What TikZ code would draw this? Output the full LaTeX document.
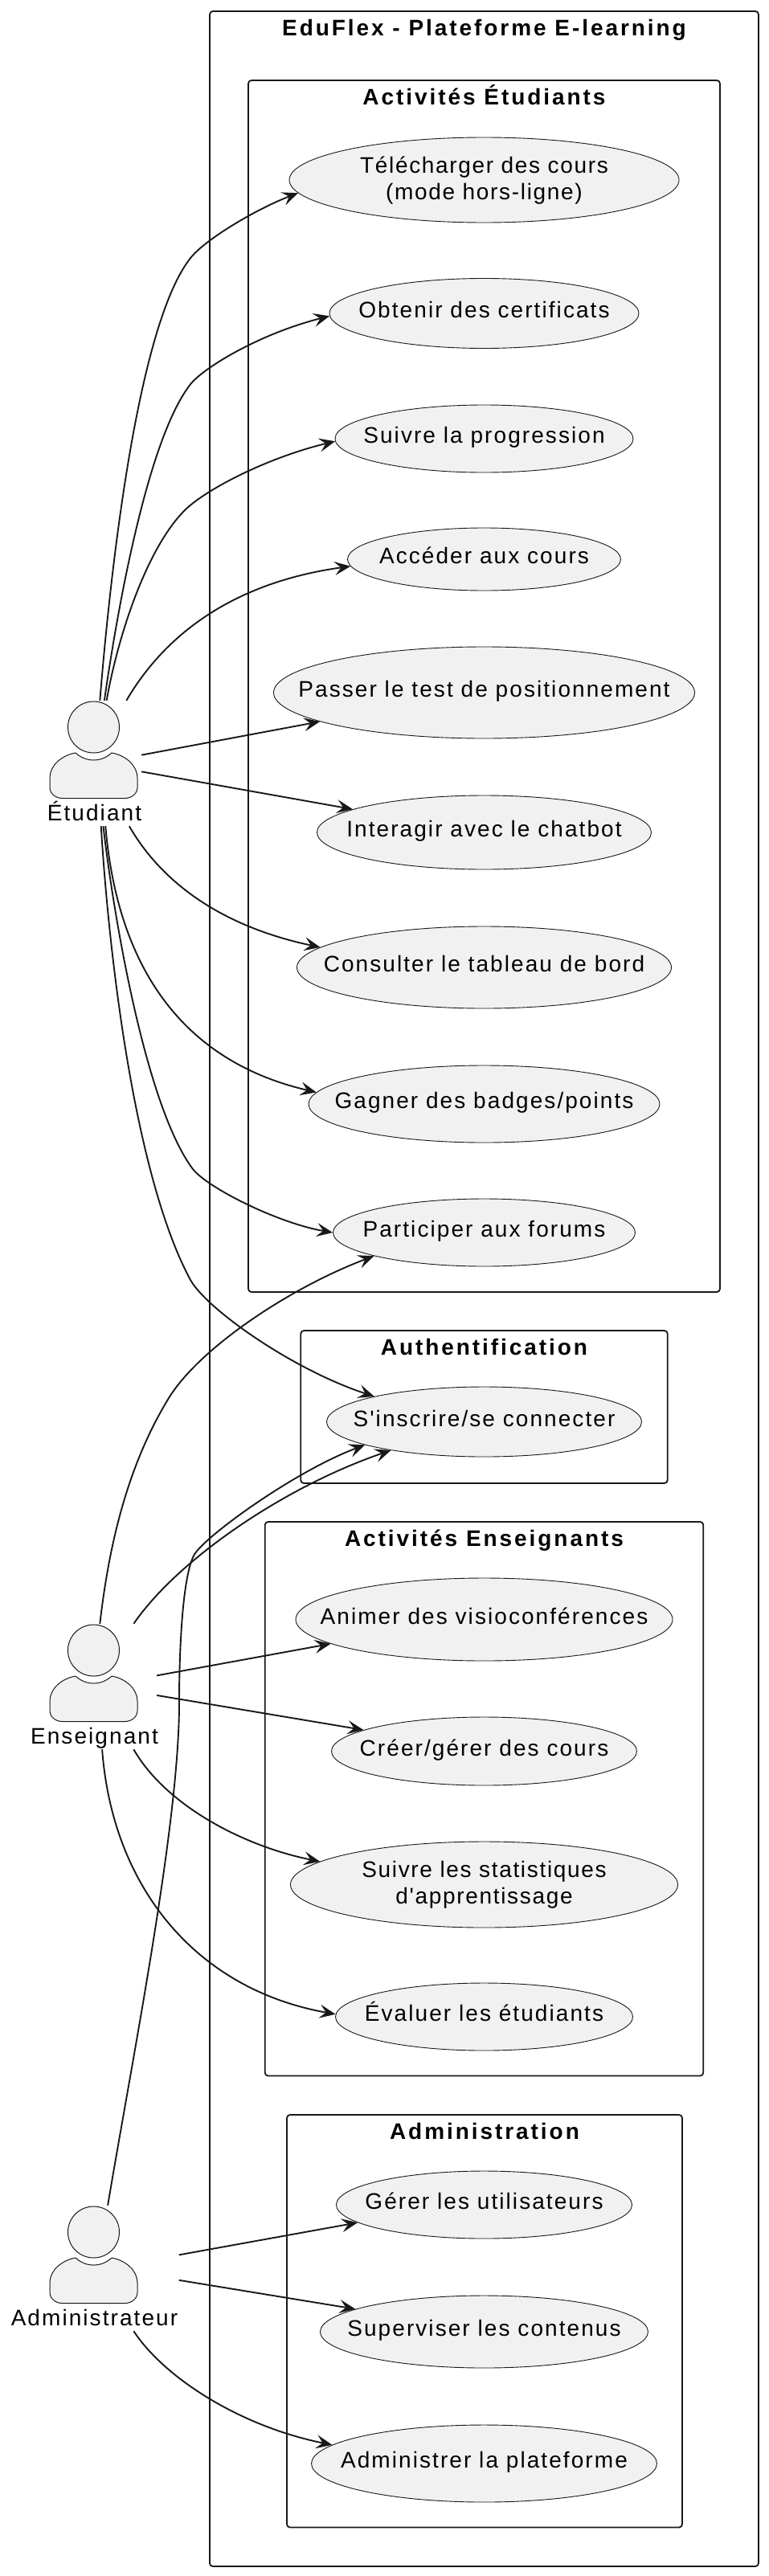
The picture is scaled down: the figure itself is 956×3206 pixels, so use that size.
\documentclass[tikz,border=0pt]{standalone}
\usepackage{fontspec}
\setmainfont[LetterSpace=7.4,Ligatures=TeXOff]{Liberation Sans}
\newfontfamily\packfont[LetterSpace=10.5]{Liberation Sans}
\newfontfamily\twofont[LetterSpace=6,Ligatures=TeXOff]{Liberation Sans}
\usepackage{xcolor}
\usepackage{tikz}
\usetikzlibrary{arrows.meta,positioning,shapes.geometric}
\definecolor{ink}{HTML}{181818}
\definecolor{casefill}{HTML}{F1F1F1}
\newcommand{\casetext}[1]{\makebox[0pt]{#1}}
\newcommand{\casetwo}[2]{\makebox[0pt]{\begin{tabular}[t]{@{}c@{}}#1\\#2\end{tabular}}}
\tikzset{
  packbox/.style={
    draw=ink,
    rounded corners=4pt,
    line width=1.8pt
  },
  packtitle/.style={
    anchor=center,
    font=\packfont\bfseries\fontsize{28}{33}\selectfont,
    text=black,
    text height=22pt,
    text depth=8pt,
    inner sep=0pt
  },
  usecase/.style={
    ellipse,
    draw=ink,
    line width=0.9pt,
    fill=casefill,
    inner sep=0pt,
    font=\fontsize{28}{33}\selectfont,
    text=black,
    text height=21pt,
    text depth=10pt
  },
  usetwo/.style={usecase, font=\twofont\fontsize{28}{33}\selectfont, text height=24pt, text depth=42pt},
  actorzone/.style={minimum height=156pt, inner sep=0pt},
  actorlabel/.style={
    anchor=center,
    font=\fontsize{28}{33}\selectfont,
    text=black,
    text height=22pt,
    text depth=8pt,
    inner sep=0pt
  },
  linkarrow/.style={-{Stealth[length=20pt,width=17pt,inset=8pt]}, line width=1.9pt, draw=ink},
  actorfig/.pic={
    \draw[draw=ink, line width=1pt, fill=casefill] (0,0) circle (32);
    \draw[draw=ink, line width=1pt, fill=casefill] (-22.5,32) .. controls (-16,38) and (-8,41) .. (0,41)
      .. controls (8,41) and (16,38) .. (22.5,32) .. controls (40,35) and (54.5,48) .. (54.5,63)
      -- (54.5,75) .. controls (54.5,83) and (47,88.5) .. (39,88.5) -- (-39,88.5)
      .. controls (-47,88.5) and (-54.5,83) .. (-54.5,75) -- (-54.5,63)
      .. controls (-54.5,48) and (-40,35) .. (-22.5,32) -- cycle;
  }
}
\begin{document}
\begin{tikzpicture}[x=1pt, y=-1pt, on grid]
  \useasboundingbox (0,0) rectangle (956,3206);

  \node[packbox, minimum width=683pt, minimum height=3180pt] (plateforme) at (602.5,1604) {};
  \node[below=24pt of plateforme.north, packtitle] (plateformetitle) {EduFlex - Plateforme E-learning};
  \node[packbox, minimum width=587pt, minimum height=1508pt] (packetud) at (602.5,854) {};
  \node[below=24pt of packetud.north, packtitle] (packetudtitle) {Activités Étudiants};
  \node[packbox, minimum width=456.5pt, minimum height=190pt] (packauth) at (602.5,1751) {};
  \node[below=24pt of packauth.north, packtitle] (packauthtitle) {Authentification};
  \node[packbox, minimum width=545.6pt, minimum height=689.5pt] (packens) at (602.5,2238.75) {};
  \node[below=24pt of packens.north, packtitle] (packenstitle) {Activités Enseignants};
  \node[packbox, minimum width=492pt, minimum height=513.5pt] (packadm) at (603,2888.75) {};
  \node[below=24pt of packadm.north, packtitle] (packadmtitle) {Administration};

  \node[usetwo, minimum width=485pt, minimum height=106pt] (telecharger) at (602.5,224)
    {\casetwo{Télécharger des cours}{(mode hors-ligne)}};
  \node[usecase, below=166pt of telecharger, minimum width=385pt, minimum height=87pt] (obtenir)
    {\casetext{Obtenir des certificats}};
  \node[usecase, below=156pt of obtenir, minimum width=371pt, minimum height=84pt] (progression)
    {\casetext{Suivre la progression}};
  \node[usecase, below=150pt of progression, minimum width=340pt, minimum height=78pt] (acceder)
    {\casetext{Accéder aux cours}};
  \node[usecase, below=166pt of acceder, minimum width=524pt, minimum height=114pt] (passer)
    {\casetext{Passer le test de positionnement}};
  \node[usecase, below=174pt of passer, minimum width=416pt, minimum height=92pt] (chatbot)
    {\casetext{Interagir avec le chatbot}};
  \node[usecase, below=168pt of chatbot, minimum width=466pt, minimum height=102pt] (tableau)
    {\casetext{Consulter le tableau de bord}};
  \node[usecase, below=170pt of tableau, minimum width=437pt, minimum height=96pt] (badges)
    {\casetext{Gagner des badges/points}};
  \node[usecase, below=160pt of badges, minimum width=376pt, minimum height=84pt] (forums)
    {\casetext{Participer aux forums}};
  \node[usecase, below=235.5pt of forums, minimum width=392pt, minimum height=87pt] (connecter)
    {\casetext{S'inscrire/se connecter}};
  \node[usecase, below=246pt of connecter, minimum width=469pt, minimum height=103pt] (visio)
    {\casetext{Animer des visioconférences}};
  \node[usecase, below=164pt of visio, minimum width=380pt, minimum height=85pt] (creer)
    {\casetext{Créer/gérer des cours}};
  \node[usetwo, below=166pt of creer, minimum width=482pt, minimum height=107pt] (stats)
    {\casetwo{Suivre les statistiques}{d'apprentissage}};
  \node[usecase, below=164.5pt of stats, minimum width=370pt, minimum height=84pt] (evaluer)
    {\casetext{Évaluer les étudiants}};
  \node[usecase, below=234pt of evaluer, minimum width=368pt, minimum height=84pt] (gerer)
    {\casetext{Gérer les utilisateurs}};
  \node[usecase, below=158pt of gerer, minimum width=408pt, minimum height=90pt] (superviser)
    {\casetext{Superviser les contenus}};
  \node[usecase, below=164pt of superviser, minimum width=430pt, minimum height=96pt] (administrer)
    {\casetext{Administrer la plateforme}};

  \node[actorzone, minimum width=117pt] (etudiant) at (117.5,950) {};
  \node[actorzone, minimum width=155pt] (enseignant) at (117.5,2099) {};
  \node[actorzone, minimum width=210pt] (admin) at (117.5,2823) {};
  \pic at (116.5,905) {actorfig};
  \pic at (116.5,2054) {actorfig};
  \pic at (116.5,2778) {actorfig};
  \node[below=64pt of etudiant.center, actorlabel] (etudiantlabel) {Étudiant};
  \node[below=64pt of enseignant.center, actorlabel] (enseignantlabel) {Enseignant};
  \node[below=64pt of admin.center, actorlabel] (adminlabel) {Administrateur};

  \draw[linkarrow] (etudiant.85.2) .. controls (140,680) and (175,397) .. (238,320)
    .. controls (256,298) and (317,261) .. (telecharger.184.2);
  \draw[linkarrow] (etudiant.81.6) .. controls (140,800) and (179,550) .. (238,477)
    .. controls (254,458) and (321,416) .. (obtenir.181);
  \draw[linkarrow] (etudiant.79.5) .. controls (145,800) and (180,685) .. (230,635)
    .. controls (255,610) and (331,570) .. (progression.181);
  \draw[linkarrow] (etudiant.63.7) .. controls (205,790) and (290,725) .. (acceder.183);
  \draw[linkarrow] (etudiant.10.7) -- (passer.190.5);
  \draw[linkarrow] (etudiant.-10.4) -- (chatbot.170.3);
  \draw[linkarrow] (etudiant.-61.4) .. controls (205,1105) and (285,1155) .. (tableau.173.4);
  \draw[linkarrow] (etudiant.-80.2) .. controls (148,1225) and (245,1325) .. (badges.176.4);
  \draw[linkarrow] (etudiant.-82.3) .. controls (140,1130) and (180,1375) .. (240,1455)
    .. controls (258,1478) and (345,1522) .. (forums.180);
  \draw[linkarrow] (etudiant.-84.5) .. controls (135,1180) and (166,1461) .. (237,1593)
    .. controls (258,1630) and (365,1705) .. (connecter.167.9);

  \draw[linkarrow] (enseignant.85.2) .. controls (137,1910) and (163,1817) .. (210,1740)
    .. controls (248,1678) and (360,1603) .. (forums.192.3);
  \draw[linkarrow] (enseignant.58.1) .. controls (222,1940) and (355,1850) .. (connecter.197);
  \draw[linkarrow] (enseignant.10.2) -- (visio.189.2);
  \draw[linkarrow] (enseignant.-8.1) -- (creer.170.9);
  \draw[linkarrow] (enseignant.-58.7) .. controls (205,2245) and (300,2297) .. (stats.172.5);
  \draw[linkarrow] (enseignant.-83) .. controls (140,2350) and (245,2476) .. (evaluer.179);

  \draw[linkarrow] (admin.78.4) .. controls (165,2560) and (223,2270) .. (223,2120)
    .. controls (223,2040) and (228.5,1953.5) .. (243,1933)
    .. controls (260,1908.5) and (369,1830) .. (connecter.191.8);
  \draw[linkarrow] (admin.9.7) -- (gerer.188.5);
  \draw[linkarrow] (admin.-8.5) -- (superviser.170.9);
  \draw[linkarrow] (admin.-58.7) .. controls (205,2960) and (300,3020) .. (administrer.173.8);
\end{tikzpicture}
\end{document}
